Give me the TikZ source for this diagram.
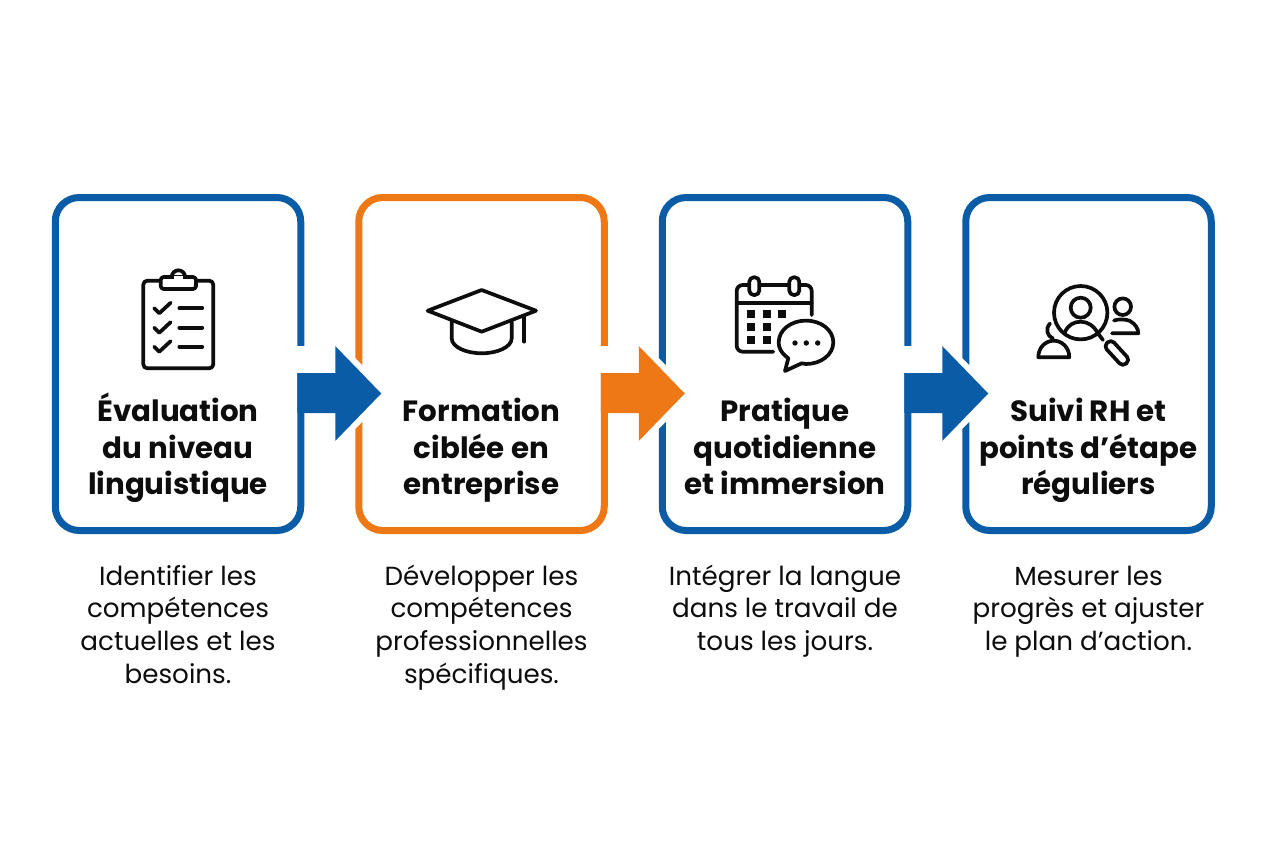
\documentclass[tikz,border=0pt]{standalone}
\usepackage{fontspec}
\setmainfont{Poppins}
\usetikzlibrary{calc}
\definecolor{flowblue}{HTML}{0B5CA6}
\definecolor{floworange}{HTML}{EE7716}
\definecolor{ink}{HTML}{0D0D0D}
\newcommand{\titlestrut}{\rule{0pt}{32pt}}
\newcommand{\descstrut}{\rule{0pt}{22pt}}
\tikzset{
  x=1pt,y=-1pt,
  stepbox/.style={draw=#1,line width=7pt,rounded corners=24pt,fill=white,minimum width=245.5pt,minimum height=333pt,outer sep=0pt,inner sep=0pt},
  titletext/.style={text=ink,align=center,font=\fontsize{29.3}{36.5}\selectfont\bfseries,inner sep=0pt,anchor=north},
  desctext/.style={text=ink,align=center,font=\fontsize{26.2}{32.7}\selectfont,inner sep=0pt,anchor=north},
  icon/.style={draw=ink,line width=3.7pt,line cap=round,line join=round},
}
\newcommand{\flowarrow}[3]{%
  \coordinate (s#1) at ($(#1.east)+(-3.5,0)$);
  \coordinate (t#2) at ($(#2.west)+(22.5,29.5)$);
  % white gaps cut into the two frames
  \fill[white] ($(s#1)+(-1,-18)$) rectangle ($(s#1)+(9,9)$);
  \path[fill=white,draw=white,line width=12pt,line join=miter]
     ($(t#2)+(-46,-47.5)$) -- (t#2) -- ($(t#2)+(-46,47.5)$) -- cycle;
  \fill[#3] ($(s#1)+(0,9)$) -- ($(t#2)+(-46,-20.5)$) -- ($(t#2)+(-46,-47.5)$)
     -- (t#2) -- ($(t#2)+(-46,47.5)$) -- ($(t#2)+(-46,19.5)$) -- ($(s#1)+(0,49)$) -- cycle;
}
\begin{document}
\begin{tikzpicture}
\useasboundingbox (0,0) rectangle (1264,848);
\fill[white] (0,0) rectangle (1264,848);
% frames
\node[stepbox=flowblue]   (b1) at (178,364) {};
\node[stepbox=floworange] (b2) at (481.5,364) {};
\node[stepbox=flowblue]   (b3) at (785,364) {};
\node[stepbox=flowblue]   (b4) at (1088.5,364) {};
% arrows
\flowarrow{b1}{b2}{flowblue}
\flowarrow{b2}{b3}{floworange}
\flowarrow{b3}{b4}{flowblue}
% titles
\node[titletext] (t1) at (178,389.7) {\titlestrut Évaluation\\du niveau\\linguistique};
\node[titletext] (t2) at (481.5,389.7) {\titlestrut Formation\\ciblée en\\entreprise};
\node[titletext] (t3) at (785,389.7) {\titlestrut Pratique\\quotidienne\\et immersion};
\node[titletext] (t4) at (1088.5,389.7) {\titlestrut Suivi RH et\\points d’étape\\réguliers};
% descriptions
\node[desctext] (d1) at (178,563) {\descstrut Identifier les\\compétences\\actuelles et les\\besoins.};
\node[desctext] (d2) at (481.5,563) {\descstrut Développer les\\compétences\\professionnelles\\spécifiques.};
\node[desctext] (d3) at (785,563) {\descstrut Intégrer la langue\\dans le travail de\\tous les jours.};
\node[desctext] (d4) at (1088.5,563) {\descstrut Mesurer les\\progrès et ajuster\\le plan d’action.};
% clipboard
\draw[icon,rounded corners=4pt] (143.3,280.7) rectangle (213.3,368.3);
\draw[icon,fill=white] (171.7,277) arc[start angle=180,end angle=360,radius=6.7];
\draw[icon,fill=white,rounded corners=3pt] (160.7,277) rectangle (196,289);
\fill[white] (173.6,275.5) rectangle (183.1,278.5);
\foreach \y in {308.3,327.7,346.7}{
  \draw[icon] (154.3,\y) -- ++(5,5) -- ++(11.4,-10.6);
  \draw[icon] (179.3,\y) -- (202.3,\y);
}
% graduation cap
\draw[icon] (451.7,321.7) -- (451.7,338.3) .. controls (451.7,347) and (466,353.3) .. (481.7,353.3) .. controls (497.4,353.3) and (511.7,347) .. (511.7,338.3) -- (511.7,321.7);
\draw[icon,fill=white] (427.7,310.7) -- (481.7,290) -- (536,310.7) -- (481.7,331.7) -- cycle;
\draw[icon] (524.3,316.7) -- (524.3,341.7);
% calendar
\draw[icon,rounded corners=6pt] (811.7,315) -- (811.7,285) -- (736.7,285) -- (736.7,351.7) -- (773.3,351.7);
\draw[icon] (736.7,302.7) -- (811.7,302.7);
\foreach \x in {749.3,789.3}
  \draw[icon,fill=white,rounded corners=4.5pt] (\x,277.3) rectangle ++(10,17.7);
\foreach \x/\y in {750.7/314.3,766.7/314.3,781.7/314.3,750.7/327.3,766.7/327.3,750.7/340.3,766.7/340.3}
  \fill[ink] (\x-4,\y-4) rectangle ++(8,8);
\draw[icon,fill=white] (788.3,358.3) .. controls (780,352) and (778.7,347) .. (778.7,342.3)
   .. controls (778.7,330) and (791,320.6) .. (806,320.6)
   .. controls (821,320.6) and (833.3,330) .. (833.3,342.3)
   .. controls (833.3,354.6) and (821,364) .. (806,364)
   .. controls (804,364) and (803,363.8) .. (801.7,363.3)
   -- (785,371) -- cycle;
\foreach \x in {795,806.3,817.7} \fill[ink] (\x,343) circle[radius=2.7];
% people and magnifier
\draw[icon] (1080.7,312.7) circle[radius=26.7];
\draw[icon] (1080.7,307.7) circle[radius=10];
\draw[icon] (1065,332) .. controls (1068,325) and (1074,321.7) .. (1080.7,321.7) .. controls (1088,321.7) and (1094,326) .. (1098,333.5) -- (1103,340);
\draw[icon,rounded corners=4.5pt] (1103.6,346) -- (1111,339.3) -- (1130,360) -- (1122.6,366.7) -- cycle;
\draw[icon] (1122.7,306.7) circle[radius=8.3];
\draw[icon] (1114,320.5) .. controls (1118,319) and (1126,319) .. (1130,321) .. controls (1135,324) and (1138.3,328) .. (1138.3,333.3) -- (1112,333.3);
\draw[icon] (1050,323.5) .. controls (1045,329) and (1047,336) .. (1053,338.5);
\draw[icon] (1038.3,357.3) .. controls (1038.3,347) and (1046,340.7) .. (1053.8,340.7) .. controls (1061.5,340.7) and (1069.3,347) .. (1069.3,357.3) -- cycle;
\end{tikzpicture}
\end{document}
